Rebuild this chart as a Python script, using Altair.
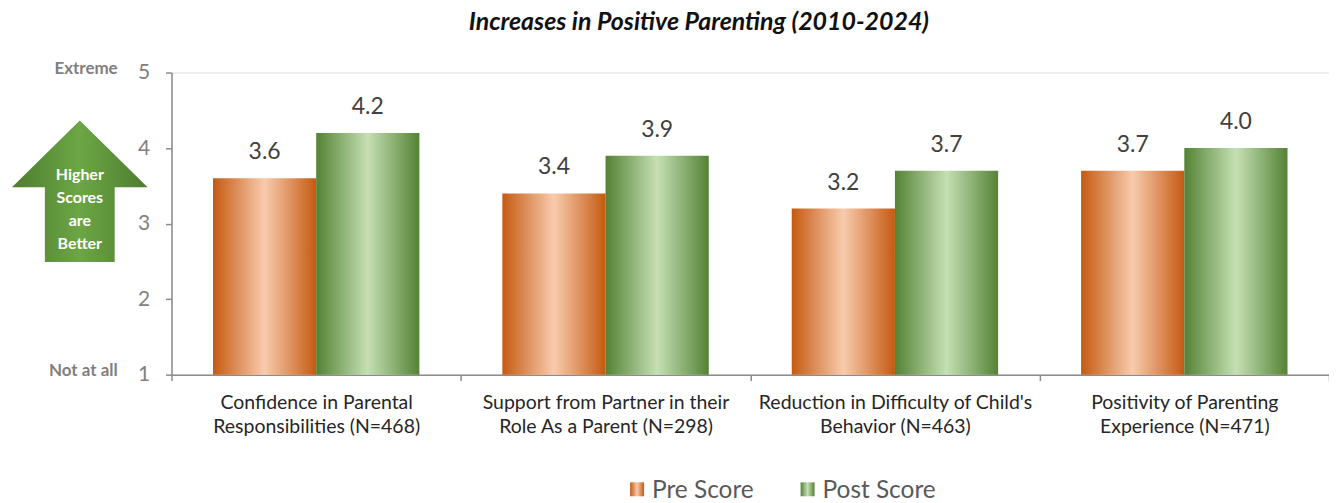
import altair as alt
import pandas as pd

# ---- data ----
categories = [
    "Confidence in Parental\nResponsibilities (N=468)",
    "Support from Partner in their\nRole As a Parent (N=298)",
    "Reduction in Difficulty of Child's\nBehavior (N=463)",
    "Positivity of Parenting\nExperience (N=471)",
]
series = ["Pre Score", "Post Score"]
pre_scores = [3.6, 3.4, 3.2, 3.7]
post_scores = [4.2, 3.9, 3.7, 4.0]
y_ticks = [1, 2, 3, 4, 5]
y_anchor_labels = ["Not at all", "Extreme"]
y_anchor_values = [1, 5]
arrow_text = ["Higher", "Scores", "are", "Better"]
title_text = "Increases in Positive Parenting (2010-2024)"

rows = []
for c, a, b in zip(categories, pre_scores, post_scores):
    rows.append({"cat": c, "series": series[0], "value": a, "label": f"{a:.1f}"})
    rows.append({"cat": c, "series": series[1], "value": b, "label": f"{b:.1f}"})
df = pd.DataFrame(rows)

# ---- styling ----
W, H = 1161, 303
FONT = "Lato"


def grad(edge, mid):
    return {
        "gradient": "linear", "x1": 0, "x2": 1, "y1": 0, "y2": 0,
        "stops": [
            {"offset": 0, "color": edge},
            {"offset": 0.5, "color": mid},
            {"offset": 1, "color": edge},
        ],
    }


orange = grad("#c55a11", "#f8cbad")
green = grad("#548235", "#c5e0b4")
arrow_fill = grad("#4e7c2f", "#6ca645")

x_enc = alt.X(
    "cat:N", sort=categories, title=None,
    scale=alt.Scale(paddingInner=0, paddingOuter=0),
    axis=alt.Axis(
        labelExpr="split(datum.label, '\\n')", labelAngle=0, labelLimit=0,
        labelFont=FONT, labelFontSize=19.5, labelColor="#262626",
        labelLineHeight=24, labelPadding=13, labelBaseline="top",
        domainColor="#8c8c8c", tickColor="#8c8c8c", tickSize=6,
        tickBand="extent", domainWidth=1.5, tickWidth=1.5,
    ),
)
xoff_enc = alt.XOffset(
    "series:N", sort=series,
    scale=alt.Scale(domain=series, paddingInner=0, paddingOuter=0.402),
)
y_enc = alt.Y(
    "value:Q", title=None,
    scale=alt.Scale(domain=[1, 5], zero=False, nice=False),
    axis=alt.Axis(
        values=y_ticks, format="d", grid=False,
        labelFont=FONT, labelFontSize=21, labelColor="#808080",
        labelPadding=16, domainColor="#8c8c8c", tickColor="#8c8c8c",
        tickSize=6, domainWidth=1.5, tickWidth=1.5,
    ),
)

base = alt.Chart(df)

bars_pre = base.transform_filter(alt.datum.series == series[0]).mark_bar(
    fill=orange, stroke=None
).encode(x=x_enc, xOffset=xoff_enc, y=y_enc, y2=alt.datum(1))

bars_post = base.transform_filter(alt.datum.series == series[1]).mark_bar(
    fill=green, stroke=None
).encode(x=x_enc, xOffset=xoff_enc, y=y_enc, y2=alt.datum(1))

value_text = base.mark_text(
    font=FONT, fontSize=23, color="#404040", baseline="alphabetic", dy=-19
).encode(x=x_enc, xOffset=xoff_enc, y=y_enc, text="label:N")

anchors = alt.Chart(
    pd.DataFrame({"t": y_anchor_labels, "v": y_anchor_values})
).mark_text(
    font=FONT, fontSize=17, fontWeight="bold", color="#7f7f7f",
    align="right", baseline="middle", dy=-4
).encode(x=alt.value(-54), y=alt.Y("v:Q"), text="t:N")

one = pd.DataFrame({"k": [0]})
arrow_path = (
    "M 0 -1 L 0.958 -0.056 L 0.493 -0.056 L 0.493 1 "
    "L -0.493 1 L -0.493 -0.056 L -0.958 -0.056 Z"
)
arrow = alt.Chart(one).mark_point(
    shape=arrow_path, size=142 * 142, filled=True, fill=arrow_fill,
    opacity=1, strokeWidth=0
).encode(x=alt.value(-92), y=alt.value(119))

arrow_label = alt.Chart(one).mark_text(
    text=arrow_text, font=FONT, fontSize=16, fontWeight="bold",
    color="white", lineHeight=23, baseline="middle", align="center"
).encode(x=alt.value(-92), y=alt.value(103))

title = alt.Chart(pd.DataFrame({"t": [title_text]})).mark_text(
    font=FONT, fontSize=25, fontWeight="bold", fontStyle="italic",
    color="#111111", align="center", baseline="middle"
).encode(x=alt.value(529), y=alt.value(-51), text="t:N")

# ---- custom legend ----
leg_x = [460, 631]
leg_y = 418


def legend_item(i, fill):
    d = pd.DataFrame({"series": [series[i]]})
    sq = alt.Chart(d).mark_rect(fill=fill).encode(
        x=alt.value(leg_x[i]), x2=alt.value(leg_x[i] + 14),
        y=alt.value(leg_y - 7), y2=alt.value(leg_y + 7),
    )
    tx = alt.Chart(d).mark_text(
        font=FONT, fontSize=24.5, color="#595959", align="left",
        baseline="middle", dy=2
    ).encode(x=alt.value(leg_x[i] + 22), y=alt.value(leg_y), text="series:N")
    return sq + tx


chart = alt.layer(
    bars_pre, bars_post, value_text, anchors, arrow, arrow_label, title,
    legend_item(0, orange), legend_item(1, green),
).properties(
    width=W, height=H,
    autosize=alt.AutoSizeParams(type="none"),
    padding={"left": 164, "top": 64, "right": 0, "bottom": 128},
).configure_view(stroke=None).configure(background="white")

chart.save("out.html", embed_options={"renderer": "svg", "actions": False})
